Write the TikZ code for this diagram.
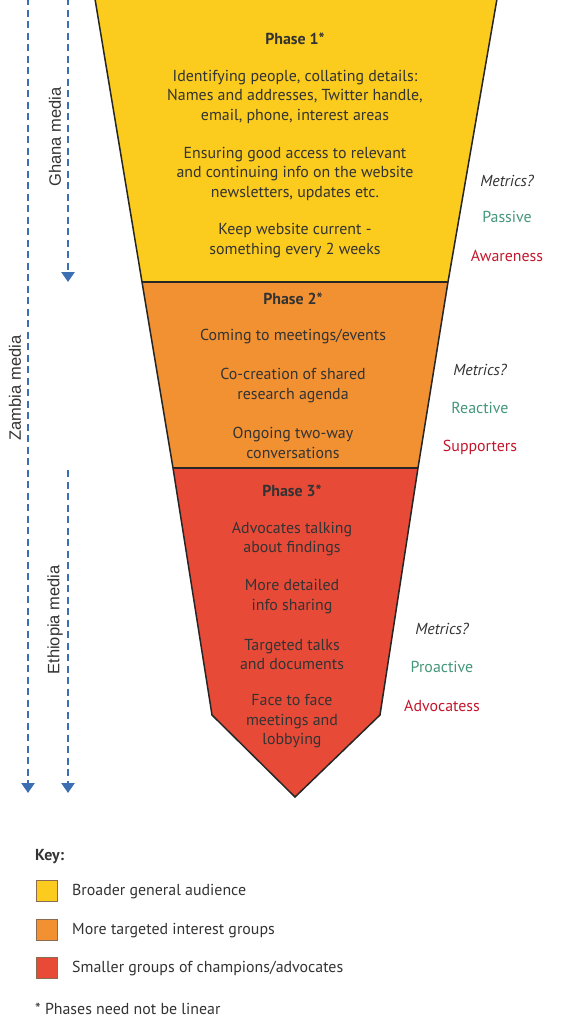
\documentclass[tikz,border=0pt]{standalone}
\usepackage{fontspec}
\setmainfont{PT Sans}
\newfontfamily\labfont{Liberation Sans}
\usetikzlibrary{arrows.meta}
\definecolor{fyellow}{HTML}{FBCB1E}
\definecolor{forange}{HTML}{F29131}
\definecolor{fred}{HTML}{E84A38}
\definecolor{txt}{HTML}{333333}
\definecolor{lgreen}{HTML}{45977A}
\definecolor{lred}{HTML}{C4172C}
\definecolor{mblue}{HTML}{3C6EB4}
\definecolor{outl}{HTML}{262626}
\definecolor{keyborder}{HTML}{8A6A50}
\begin{document}
\begin{tikzpicture}[x=1pt,y=-1pt,
  body/.style={align=center,text=txt,font=\fontsize{15.9}{19.5}\selectfont,inner sep=0pt},
  head/.style={body,font=\fontsize{15.9}{19.5}\selectfont\bfseries},
  metric/.style={body,font=\fontsize{15.9}{19.5}\selectfont\itshape},
  passive/.style={body,text=lgreen},
  aud/.style={body,text=lred},
  media/.style={draw=mblue,line width=2.5pt,dash pattern=on 7pt off 4.5pt,-{Triangle[width=13pt,length=10pt]}},
  medialab/.style={rotate=90,text=txt,font=\labfont\fontsize{16.5}{19}\selectfont,inner sep=0pt},
  keybox/.style={draw=keyborder,line width=1.2pt,minimum width=21pt,minimum height=21pt,inner sep=0pt},
  keytxt/.style={body,anchor=west},
  phase/.style={draw=outl,line width=1.5pt,line join=miter}
]
\useasboundingbox[fill=white] (0,0) rectangle (560,1028);

% funnel
\fill[fyellow] (94.5,-4) -- (497.5,-4) -- (448,282) -- (142,282) -- cycle;
\fill[forange] (142,282) -- (448,282) -- (418,468) -- (173,468) -- cycle;
\fill[fred] (173,468) -- (418,468) -- (380,715) -- (295,797) -- (212,715) -- cycle;
\draw[phase] (94.5,-4) -- (142,282) -- (173,468) -- (212,715) -- (295,797) -- (380,715) -- (418,468) -- (448,282) -- (497.5,-4);
\draw[phase] (142,282) -- (448,282);
\draw[phase] (173,468) -- (418,468);

% phase 1
\node[head] (p1h) at (295,39) {Phase 1*};
\node[body] (p1a) at (295,96.5) {Identifying people, collating details:\\Names and addresses, Twitter handle,\\email, phone, interest areas};
\node[body] (p1b) at (295,173.5) {Ensuring good access to relevant\\and continuing info on the website\\newsletters, updates etc.};
\node[body] (p1c) at (295,240.5) {Keep website current -\\something every 2 weeks};

% phase 2
\node[head] (p2h) at (293,299) {Phase 2*};
\node[body] (p2a) at (293,337) {Coming to meetings/events};
\node[body] (p2b) at (293,385.5) {Co-creation of shared\\research agenda};
\node[body] (p2c) at (293,443) {Ongoing two-way\\conversations};

% phase 3
\node[head] (p3h) at (292,491) {Phase 3*};
\node[body] (p3a) at (292,539) {Advocates talking\\about findings};
\node[body] (p3b) at (292,596.5) {More detailed\\info sharing};
\node[body] (p3c) at (292,654.5) {Targeted talks\\and documents};
\node[body] (p3d) at (292,721.5) {Face to face\\meetings and\\lobbying};

% right labels
\node[metric] (m1) at (507,181) {Metrics?};
\node[passive] (g1) at (507,217) {Passive};
\node[aud] (r1) at (507,256) {Awareness};
\node[metric] (m2) at (480,370) {Metrics?};
\node[passive] (g2) at (480,408) {Reactive};
\node[aud] (r2) at (480,447) {Supporters};
\node[metric] (m3) at (442,629) {Metrics?};
\node[passive] (g3) at (442,667) {Proactive};
\node[aud] (r3) at (442,706) {Advocatess};

% media arrows
\coordinate (zs) at (28,-2);
\coordinate (ze) at (28,793);
\coordinate (gs) at (68,-2);
\coordinate (ge) at (68,282);
\coordinate (es) at (68,470);
\coordinate (ee) at (68,793);
\draw[media] (zs) -- (ze);
\draw[media] (gs) -- (ge);
\draw[media] (es) -- (ee);
\node[medialab] (zl) at (15,388) {Zambia media};
\node[medialab] (gl) at (55,137) {Ghana media};
\node[medialab] (el) at (55,620) {Ethiopia media};

% key
\node[head,anchor=west] (key) at (35,857) {Key:};
\node[keybox,fill=fyellow] (k1) at (47,891) {};
\node[keybox,fill=forange] (k2) at (47,930) {};
\node[keybox,fill=fred] (k3) at (47,968) {};
\node[keytxt] (t1) at (72,892) {Broader general audience};
\node[keytxt] (t2) at (72,931) {More targeted interest groups};
\node[keytxt] (t3) at (72,969) {Smaller groups of champions/advocates};
\node[keytxt] (note) at (35,1009) {* Phases need not be linear};
\end{tikzpicture}
\end{document}
